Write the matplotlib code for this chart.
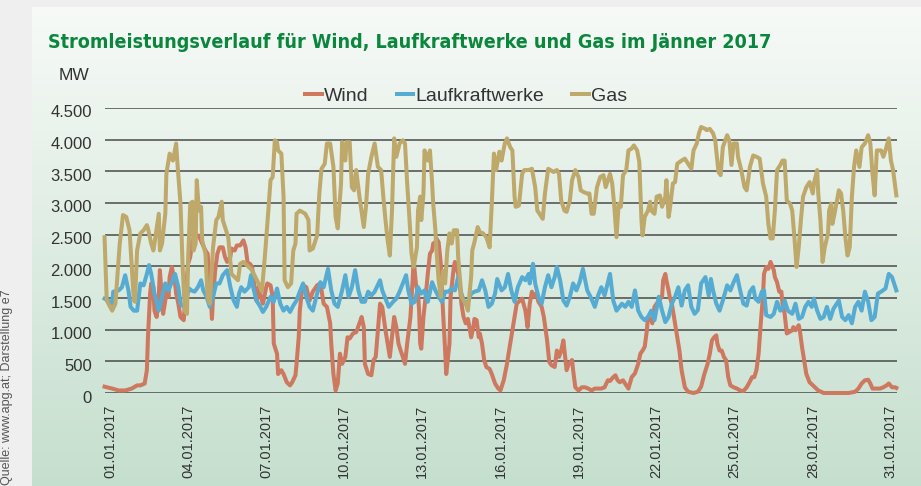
import numpy as np
import matplotlib.pyplot as plt
from matplotlib import font_manager
from matplotlib.ticker import FuncFormatter
from matplotlib.lines import Line2D

plt.rcParams['font.family'] = ['Liberation Sans', 'DejaVu Sans']

# hours since 01.01.2017 00:00, MW
wind_data = [
    (-5, 100), (2, 70), (8, 40), (14, 40), (20, 70), (25, 120), (28, 120), (32, 150), (34, 360), (35, 880),
    (37, 1570), (38, 1730), (40, 1670), (41, 1300), (43, 1200), (45, 1520), (46, 1940), (48, 1460), (49, 1250),
    (51, 1460), (52, 1620), (54, 1520), (55, 1830), (57, 1990), (60, 1730), (61, 1570), (63, 1410), (65, 1200),
    (68, 1150), (70, 1620), (72, 2040), (74, 2150), (76, 2410), (78, 2460), (81, 2490), (83, 2440), (85, 2360),
    (88, 2250), (90, 2200), (92, 1830), (94, 1170), (95, 1520), (97, 1940), (99, 2200), (101, 2300), (104, 2300),
    (106, 2150), (108, 2070), (111, 2150), (112, 2280), (115, 2250), (117, 2330), (120, 2330), (123, 2410),
    (125, 2300), (127, 2040), (129, 2040), (131, 1990), (133, 1730), (135, 1460), (137, 1670), (139, 1520),
    (141, 1410), (144, 1670), (145, 1730), (148, 1700), (150, 1520), (151, 780), (154, 620), (155, 300),
    (158, 360), (160, 300), (163, 170), (166, 120), (168, 170), (171, 280), (172, 460), (174, 880), (175, 1300),
    (177, 1620), (178, 1700), (181, 1670), (184, 1460), (187, 1600), (191, 1700), (194, 1730), (197, 1410),
    (200, 1360), (203, 1100), (204, 780), (206, 300), (208, 40), (210, 150), (212, 620), (214, 460), (217, 570),
    (219, 880), (221, 860), (224, 940), (227, 960), (230, 1100), (232, 1200), (234, 1040), (235, 460), (238, 300),
    (241, 280), (243, 520), (245, 570), (247, 990), (249, 1410), (251, 1360), (254, 990), (256, 780), (258, 570),
    (260, 880), (262, 1200), (264, 1040), (266, 780), (268, 670), (270, 570), (272, 460), (274, 780), (277, 1200),
    (279, 1780), (280, 2100), (282, 1730), (284, 1570), (285, 1300), (286, 780), (287, 700), (289, 1200),
    (291, 1520), (293, 1880), (295, 2200), (297, 2250), (298, 2360), (300, 2380), (301, 2440), (303, 2380),
    (305, 2040), (307, 1300), (309, 670), (310, 300), (313, 780), (314, 1520), (317, 1990), (318, 2070),
    (321, 1880), (323, 1620), (324, 1410), (326, 1200), (328, 1100), (330, 1170), (333, 880), (335, 1040),
    (336, 1170), (338, 1150), (340, 880), (341, 940), (343, 780), (345, 520), (347, 410), (350, 380), (352, 300),
    (355, 150), (358, 70), (360, 40), (363, 200), (366, 460), (367, 570), (370, 880), (373, 1200), (375, 1410),
    (378, 1460), (380, 1490), (383, 1300), (385, 1040), (387, 1410), (389, 1600), (391, 1520), (393, 1570),
    (395, 1440), (398, 1360), (400, 1200), (403, 830), (405, 490), (407, 440), (410, 410), (412, 670), (414, 570),
    (416, 670), (418, 830), (420, 520), (421, 360), (423, 460), (426, 520), (427, 360), (429, 90), (432, 40),
    (435, 90), (438, 90), (441, 70), (444, 40), (447, 70), (450, 70), (453, 70), (456, 90), (459, 200), (461, 190),
    (464, 250), (466, 280), (468, 200), (470, 170), (473, 200), (476, 120), (478, 70), (481, 250), (484, 310),
    (487, 460), (489, 620), (491, 670), (493, 730), (495, 990), (496, 1200), (499, 1150), (500, 1100), (502, 1360),
    (504, 1410), (506, 1460), (509, 1520), (510, 1780), (512, 1880), (513, 1780), (515, 1620), (516, 1520),
    (518, 1410), (520, 1200), (522, 990), (525, 670), (527, 360), (530, 90), (533, 20), (538, 0), (542, 20),
    (545, 100), (548, 300), (551, 460), (553, 620), (555, 830), (557, 880), (559, 910), (560, 780), (562, 670),
    (564, 670), (566, 570), (568, 520), (570, 250), (572, 120), (575, 90), (578, 70), (581, 40), (584, 30),
    (587, 90), (589, 150), (592, 250), (594, 250), (596, 360), (598, 620), (600, 1100), (602, 1520), (603, 1880),
    (605, 1990), (607, 1960), (609, 2070), (612, 1940), (613, 1830), (615, 1750), (617, 1600), (619, 1600),
    (620, 1410), (622, 1250), (624, 940), (626, 960), (629, 990), (630, 1040), (632, 990), (635, 1070), (636, 990),
    (638, 730), (640, 520), (642, 300), (645, 170), (650, 90), (653, 40), (658, 0), (662, 0), (668, 0), (675, 0),
    (681, 0), (687, 20), (690, 70), (693, 150), (696, 200), (699, 210), (701, 150), (703, 70), (707, 70),
    (710, 70), (713, 90), (716, 120), (718, 150), (721, 90), (724, 90), (725, 80),
]

lkw_data = [
    (-5, 1490), (-2, 1460), (2, 1410), (3, 1600), (8, 1620), (11, 1670), (14, 1860), (17, 1620), (19, 1360),
    (22, 1300), (25, 1300), (28, 1730), (31, 1700), (34, 1880), (36, 2020), (38, 1880), (41, 1570), (45, 1300),
    (48, 1520), (51, 1730), (54, 1620), (57, 1750), (60, 1880), (63, 1670), (65, 1410), (68, 1360), (70, 1460),
    (73, 1650), (75, 1620), (78, 1600), (81, 1670), (84, 1780), (86, 1620), (89, 1520), (92, 1360), (95, 1520),
    (98, 1730), (101, 1730), (104, 1860), (108, 1940), (111, 1670), (114, 1460), (117, 1360), (119, 1570),
    (121, 1670), (124, 1600), (128, 1670), (130, 1860), (132, 1670), (135, 1460), (138, 1380), (141, 1280),
    (144, 1360), (148, 1520), (151, 1440), (154, 1650), (157, 1410), (160, 1300), (163, 1360), (166, 1280),
    (169, 1380), (172, 1460), (175, 1600), (178, 1730), (181, 1520), (184, 1360), (187, 1300), (191, 1570),
    (194, 1750), (197, 1670), (201, 1960), (204, 1620), (207, 1410), (210, 1360), (214, 1620), (217, 1860),
    (220, 1520), (223, 1670), (226, 1940), (229, 1620), (232, 1440), (235, 1440), (238, 1600), (241, 1540),
    (244, 1600), (249, 1780), (251, 1620), (254, 1490), (257, 1360), (261, 1440), (264, 1490), (267, 1600),
    (270, 1730), (273, 1860), (275, 1620), (278, 1410), (281, 1440), (284, 1670), (287, 1570), (290, 1620),
    (293, 1440), (297, 1750), (300, 1620), (303, 1520), (306, 1440), (309, 1600), (312, 1600), (315, 1650),
    (318, 1620), (321, 1830), (324, 1570), (327, 1410), (330, 1440), (333, 1570), (336, 1600), (340, 1620),
    (343, 1780), (346, 1620), (349, 1360), (352, 1410), (355, 1570), (357, 1800), (361, 1620), (364, 1670),
    (367, 1880), (370, 1620), (373, 1440), (376, 1670), (380, 1830), (383, 1780), (386, 1880), (387, 1730),
    (390, 2040), (392, 1730), (395, 1520), (398, 1410), (401, 1670), (404, 1860), (407, 1670), (410, 1830),
    (412, 1990), (415, 1780), (418, 1460), (421, 1380), (424, 1520), (427, 1730), (430, 1620), (433, 1750),
    (436, 1960), (440, 1620), (443, 1520), (447, 1360), (450, 1540), (453, 1670), (456, 1540), (461, 1880),
    (464, 1460), (467, 1300), (472, 1410), (475, 1360), (478, 1440), (481, 1360), (484, 1620), (487, 1300),
    (490, 1200), (493, 1150), (496, 1200), (499, 1300), (502, 1150), (506, 1520), (509, 1300), (512, 1120),
    (515, 1200), (518, 1410), (521, 1520), (524, 1670), (527, 1380), (530, 1620), (533, 1700), (536, 1360),
    (539, 1250), (542, 1310), (545, 1730), (549, 1830), (552, 1540), (554, 1800), (556, 1620), (559, 1410),
    (562, 1300), (565, 1460), (569, 1700), (572, 1620), (575, 1750), (578, 1860), (581, 1620), (584, 1410),
    (587, 1380), (590, 1600), (593, 1670), (595, 1490), (598, 1440), (601, 1600), (603, 1620), (605, 1230),
    (609, 1200), (612, 1250), (615, 1440), (618, 1300), (621, 1360), (622, 1460), (625, 1300), (629, 1250),
    (632, 1410), (635, 1170), (638, 1200), (641, 1360), (644, 1440), (647, 1360), (649, 1490), (652, 1300),
    (655, 1170), (658, 1200), (661, 1360), (664, 1170), (667, 1330), (672, 1460), (675, 1200), (678, 1150),
    (681, 1230), (684, 1100), (687, 1360), (690, 1440), (693, 1300), (696, 1600), (699, 1440), (702, 1150),
    (705, 1200), (708, 1570), (711, 1600), (715, 1650), (718, 1880), (721, 1830), (724, 1670), (725, 1620),
]

gas_data = [
    (-5, 2460), (-3, 1460), (2, 1300), (5, 1410), (9, 2360), (12, 2810), (15, 2780), (18, 2570), (22, 1460),
    (23, 1440), (25, 2250), (28, 2520), (31, 2570), (34, 2650), (35, 2600), (38, 2360), (40, 2250), (41, 2360),
    (45, 2830), (46, 2250), (48, 2360), (51, 2830), (52, 3460), (55, 3780), (58, 3670), (61, 3940), (62, 3670),
    (65, 2990), (67, 1990), (69, 1300), (71, 1250), (72, 2100), (74, 2990), (76, 3020), (77, 2250), (79, 2360),
    (80, 3360), (82, 2880), (84, 2940), (85, 2410), (88, 2200), (90, 1520), (92, 1410), (95, 2300), (98, 2730),
    (100, 2780), (103, 3020), (104, 2730), (106, 2620), (109, 2460), (112, 1880), (115, 1830), (118, 1780),
    (120, 2040), (123, 2070), (128, 1990), (131, 1940), (134, 1830), (137, 1730), (140, 1600), (143, 2200),
    (146, 2880), (148, 3360), (150, 3410), (152, 3990), (154, 3960), (155, 3830), (158, 3780), (160, 3100),
    (161, 1780), (164, 1670), (167, 1730), (169, 2250), (171, 2360), (172, 2830), (175, 2880), (180, 2830),
    (183, 2730), (184, 2250), (187, 2280), (191, 2490), (193, 3150), (195, 3540), (198, 3620), (200, 3940),
    (203, 3940), (206, 3570), (208, 2780), (210, 2600), (213, 3300), (214, 3960), (217, 3670), (218, 3960),
    (221, 3960), (223, 3250), (225, 3200), (227, 3520), (230, 3100), (234, 2620), (236, 2940), (238, 3460),
    (241, 3730), (244, 3940), (247, 3570), (250, 3520), (252, 3100), (254, 2730), (256, 2410), (258, 2170),
    (260, 2880), (262, 4020), (264, 3730), (267, 3940), (270, 3990), (272, 3940), (274, 3310), (276, 2780),
    (278, 2200), (280, 1990), (283, 2300), (284, 2880), (286, 3100), (287, 2730), (289, 3150), (290, 3830),
    (293, 3670), (295, 3830), (297, 3310), (298, 2990), (300, 2570), (301, 2250), (303, 1780), (305, 1520),
    (307, 1930), (309, 1730), (311, 2250), (313, 2520), (315, 2360), (317, 2570), (320, 2570), (321, 2150),
    (324, 1520), (326, 1460), (328, 1410), (330, 1300), (333, 1840), (334, 2250), (336, 2380), (339, 2620),
    (341, 2540), (344, 2520), (347, 2460), (350, 2300), (352, 2990), (354, 3780), (356, 3520), (359, 3810),
    (361, 3670), (364, 3940), (366, 4020), (369, 3880), (371, 3830), (373, 3100), (374, 2940), (377, 2960),
    (380, 3460), (382, 3520), (386, 3520), (389, 3540), (392, 3250), (394, 2880), (396, 2830), (399, 2750),
    (401, 3150), (404, 3540), (406, 3520), (409, 3490), (412, 3520), (414, 3460), (416, 3040), (419, 2880),
    (421, 2860), (424, 3040), (426, 3360), (429, 3520), (432, 3410), (434, 3200), (437, 3170), (440, 3150),
    (442, 3150), (444, 2830), (446, 2830), (449, 3250), (452, 3410), (455, 3440), (457, 3250), (461, 3460),
    (463, 3310), (465, 2940), (467, 2460), (469, 2990), (471, 2940), (473, 3440), (476, 3520), (478, 3830),
    (481, 3860), (483, 3910), (486, 3830), (488, 3650), (490, 2730), (491, 2490), (493, 2780), (496, 2880),
    (498, 3020), (499, 2880), (502, 2830), (504, 3100), (507, 3120), (509, 2940), (512, 3100), (513, 3360),
    (515, 2780), (516, 2880), (519, 3310), (521, 3330), (523, 3620), (527, 3670), (530, 3700), (533, 3620),
    (536, 3540), (538, 3830), (541, 3940), (543, 4100), (545, 4200), (549, 4170), (550, 4150), (553, 4170),
    (556, 4100), (558, 3990), (561, 3490), (563, 3440), (565, 3880), (569, 4070), (571, 3990), (573, 3600),
    (575, 3940), (578, 3940), (579, 3730), (582, 3520), (585, 3250), (587, 3200), (590, 3570), (593, 3750),
    (596, 3730), (599, 3700), (602, 3310), (605, 3100), (607, 2670), (609, 2440), (611, 2440), (613, 2880),
    (615, 3520), (618, 3600), (620, 3670), (622, 3670), (624, 3040), (627, 2990), (629, 2880), (631, 2460),
    (633, 1990), (635, 2300), (637, 2730), (639, 3100), (642, 3250), (645, 3330), (648, 3150), (649, 3310),
    (652, 3520), (653, 3150), (655, 2730), (657, 2070), (659, 2300), (662, 2520), (663, 2880), (665, 2990),
    (666, 2670), (668, 2830), (672, 3200), (674, 3150), (676, 2880), (678, 2460), (680, 2170), (682, 2300),
    (684, 3100), (686, 3570), (688, 3830), (691, 3570), (693, 3880), (696, 3940), (699, 4070), (701, 3940),
    (703, 3460), (705, 3120), (707, 3830), (711, 3830), (713, 3730), (715, 3830), (718, 4020), (720, 3670),
    (722, 3520), (724, 3250), (725, 3120),
]

series_names = ['Wind', 'Laufkraftwerke', 'Gas']
series_colors = ['#cd785f', '#56abd2', '#bea96b']
date_ticks = [0, 72, 144, 216, 288, 360, 432, 504, 576, 648, 720]
date_labels = ['01.01.2017', '04.01.2017', '07.01.2017', '10.01.2017', '13.01.2017', '16.01.2017',
               '19.01.2017', '22.01.2017', '25.01.2017', '28.01.2017', '31.01.2017']
y_ticks = [0, 500, 1000, 1500, 2000, 2500, 3000, 3500, 4000, 4500]
title = 'Stromleistungsverlauf für Wind, Laufkraftwerke und Gas im Jänner 2017'

W, H = 921, 486
fig = plt.figure(figsize=(W / 100, H / 100), dpi=100, facecolor='#efefef')

# card background with vertical gradient
bg = fig.add_axes([32 / W, 0, 1 - 32 / W, 1 - 7 / H])
top_c = np.array([247, 250, 247]) / 255
bot_c = np.array([197, 223, 206]) / 255
t = np.linspace(0, 1, 256)[:, None]
grad = top_c * (1 - t) + bot_c * t
bg.imshow(grad[:, None, :], aspect='auto', extent=[0, 1, 0, 1])
bg.axis('off')

ax = fig.add_axes([105 / W, 1 - 393 / H, (897 - 105) / W, (393 - 108) / H])
ax.set_facecolor('none')

for data, name, color in zip([wind_data, lkw_data, gas_data], series_names, series_colors):
    h, mw = zip(*data)
    ax.plot(h, mw, color=color, lw=2.9, solid_joinstyle='round', clip_on=False, label=name)

ax.set_xlim(-4.6, 725.6)
ax.set_ylim(0, 4500)
ax.set_yticks(y_ticks)
ax.set_yticklabels([])
ax.grid(axis='y', color='#4a4a4a', lw=1.1)
ax.set_axisbelow(True)
for s in ax.spines.values():
    s.set_visible(False)
ax.tick_params(axis='y', length=0)

# y labels sit a little below their gridlines
fmt = FuncFormatter(lambda v, p: f'{int(v):,}'.replace(',', '.'))
for v in y_ticks:
    ax.annotate(fmt(v), xy=(0, v), xycoords=('axes fraction', 'data'), xytext=(-13, -5),
                textcoords='offset pixels', ha='right', va='center', fontsize=12, color='#333333',
                annotation_clip=False)

ax.set_xticks(date_ticks)
ax.set_xticklabels(date_labels, rotation=90, va='top', ha='center', fontsize=10.5, color='#333333')
ax.tick_params(axis='x', length=0, pad=8.5)

handles = [Line2D([], [], color=c, lw=2.9) for c in series_colors]
fig.legend(handles, series_names, loc='center', bbox_to_anchor=(466 / W, 1 - 96 / H), ncol=3,
           frameon=False, fontsize=14, handlelength=0.85, handletextpad=0.1, columnspacing=1.45,
           labelcolor='#333333')

# title: narrow bold face if one is installed, size fitted to the reference width
names = {f.name for f in font_manager.fontManager.ttflist}
stretch = 'normal'
if 'Liberation Sans Narrow' in names:
    title_family = 'Liberation Sans Narrow'
elif 'DejaVu Sans Condensed' in names:
    title_family = 'DejaVu Sans Condensed'
elif any(f.name == 'DejaVu Sans' and f.stretch == 'condensed' for f in font_manager.fontManager.ttflist):
    title_family, stretch = 'DejaVu Sans', 'condensed'
else:
    title_family = 'Liberation Sans'
ttl = fig.text(48 / W, 1 - 48.5 / H, title, fontsize=16, fontweight='bold', color='#0a873d',
               va='baseline', family=title_family, fontstretch=stretch)
renderer = fig.canvas.get_renderer()
w = ttl.get_window_extent(renderer).width
ttl.set_fontsize(16 * 724 / w)

fig.text(89 / W, 1 - 76 / H, 'MW', ha='right', va='center', fontsize=12.5, color='#333333')
fig.text(7 / W, 1 / H, 'Quelle: www.apg.at; Darstellung e7', rotation=90, rotation_mode='anchor',
         ha='left', va='center', fontsize=9, color='#555555')

fig.savefig('out.png', dpi=100, facecolor=fig.get_facecolor())
